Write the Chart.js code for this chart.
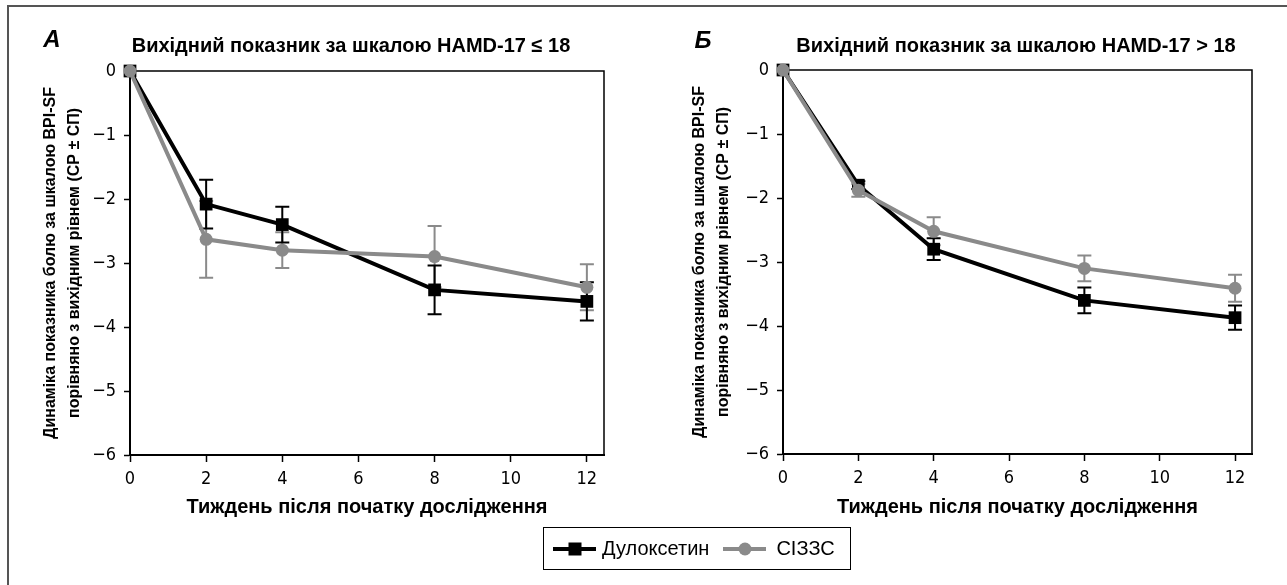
<!DOCTYPE html>
<html lang="uk">
<head>
<meta charset="utf-8">
<script src="https://cdn.jsdelivr.net/npm/chart.js@4.4.1/dist/chart.umd.min.js"></script>
<style>
body{margin:0;background:#fff;width:1287px;height:585px;overflow:hidden;position:relative;font-family:"Liberation Sans",Arial,sans-serif;color:#000}
#cadre{position:absolute;left:7px;top:5px;width:1400px;height:700px;border:2px solid #555}
canvas{position:absolute;top:0}
#grA{left:0}
#grB{left:640px}
.lettre{position:absolute;font:italic bold 24px "Liberation Sans",Arial,sans-serif;transform:translate(-50%,-50%)}
.titre{position:absolute;font:bold 20px "Liberation Sans",Arial,sans-serif;white-space:nowrap;transform:translate(-50%,-50%)}
#legende{position:absolute;left:543px;top:527px;width:308px;height:43px;border:1.5px solid #000;display:flex;align-items:center;font-size:20px;box-sizing:border-box}
.trait{position:relative;display:inline-block;width:43px;height:4px;margin-left:9px;margin-right:6px}
.trait span{position:absolute;left:50%;top:50%;transform:translate(-50%,-50%)}
</style>
</head>
<body>
<div id="cadre"></div>
<canvas id="grA" width="640" height="530"></canvas>
<canvas id="grB" width="647" height="530"></canvas>
<div class="lettre" style="left:52px;top:39px">А</div>
<div class="titre" style="left:351px;top:45px">Вихідний показник за шкалою HAMD-17 ≤ 18</div>
<div class="lettre" style="left:703px;top:40px">Б</div>
<div class="titre" style="left:1016px;top:45px">Вихідний показник за шкалою HAMD-17 &gt; 18</div>
<div id="legende">
  <span class="trait" style="background:#000"><span style="width:13px;height:13px;background:#000"></span></span>Дулоксетин
  <span class="trait" style="background:#8a8a8a;margin-left:14px;margin-right:10px"><span style="width:13px;height:13px;border-radius:50%;background:#8a8a8a"></span></span>СІЗЗС
</div>
<script>
// semaines de mesure et graduations des axes
var semaines = [0, 2, 4, 8, 12]
var gradX = [0, 2, 4, 6, 8, 10, 12]
var gradY = [0, -1, -2, -3, -4, -5, -6]

// А : HAMD-17 <= 18 (moyenne et erreur standard)
var duloxA = [0, -2.08, -2.4, -3.42, -3.6]
var duloxA_es = [0, 0.38, 0.28, 0.38, 0.3]
var sizzsA = [0, -2.63, -2.8, -2.9, -3.38]
var sizzsA_es = [0, 0.6, 0.28, 0.48, 0.36]

// Б : HAMD-17 > 18
var duloxB = [0, -1.8, -2.8, -3.6, -3.87]
var duloxB_es = [0, 0.06, 0.17, 0.2, 0.19]
var sizzsB = [0, -1.88, -2.52, -3.1, -3.41]
var sizzsB_es = [0, 0.1, 0.22, 0.2, 0.21]

var gris = "#8a8a8a"
var policeChiffres = {family: "'Liberation Sans Narrow', 'DejaVu Sans Condensed', Arial, sans-serif", size: 18}
var policeTitre = {family: "'Liberation Sans', Arial, sans-serif", size: 16, weight: "bold"}

function points(val){
	var res = []
	for(var i=0;i<semaines.length;i++){
		res.push({x: semaines[i], y: val[i]})
	}
	return res
}

// cadre du haut et de droite + barres d'erreur, sous les courbes
var dessous = {
	id: "dessous",
	beforeDatasetsDraw: function(chart){
		var ctx = chart.ctx
		var z = chart.chartArea
		ctx.save()
		ctx.strokeStyle = "#000"
		ctx.lineWidth = 1.5
		ctx.beginPath()
		ctx.moveTo(z.left, z.top)
		ctx.lineTo(z.right, z.top)
		ctx.lineTo(z.right, z.bottom)
		ctx.stroke()
		var ys = chart.scales.y
		var metas = chart.getSortedVisibleDatasetMetas()
		for(var k=0;k<metas.length;k++){
			var ds = chart.data.datasets[metas[k].index]
			ctx.strokeStyle = ds.borderColor
			ctx.lineWidth = 2
			for(var i=0;i<ds.data.length;i++){
				var e = ds.erreurs[i]
				if(!e) continue
				var x = metas[k].data[i].x
				var h = ys.getPixelForValue(ds.data[i].y + e)
				var b = ys.getPixelForValue(ds.data[i].y - e)
				ctx.beginPath()
				ctx.moveTo(x, h); ctx.lineTo(x, b)
				ctx.moveTo(x-7, h); ctx.lineTo(x+7, h)
				ctx.moveTo(x-7, b); ctx.lineTo(x+7, b)
				ctx.stroke()
			}
		}
		ctx.restore()
	}
}

function graphe(id, dul, dulEs, siz, sizEs, geo){
	return new Chart(id, {
		type: "line",
		data: {datasets: [
			{label: "Дулоксетин", data: points(dul), erreurs: dulEs, borderColor: "#000", backgroundColor: "#000",
				borderWidth: 4, pointStyle: "rect", pointRadius: 9, pointBorderWidth: 0, order: 1, clip: false},
			{label: "СІЗЗС", data: points(siz), erreurs: sizEs, borderColor: gris, backgroundColor: gris,
				borderWidth: 4, pointStyle: "circle", pointRadius: 6.5, pointBorderWidth: 0, order: 0, clip: false}
		]},
		options: {
			responsive: false,
			animation: false,
			layout: {padding: {left: 0, top: geo.haut, right: geo.droite, bottom: 0}},
			plugins: {legend: {display: false}, tooltip: {enabled: false}},
			scales: {
				x: {
					type: "linear", min: 0, max: 12.45,
					afterFit: function(ax){ ax.height = geo.basX },
					afterBuildTicks: function(ax){ ax.ticks = gradX.map(v => ({value: v})) },
					grid: {drawOnChartArea: false, tickLength: 7, tickWidth: 1.5, tickColor: "#000"},
					border: {color: "#000", width: 2},
					ticks: {font: policeChiffres, color: "#000", padding: 7, maxRotation: 0},
					title: {display: true, text: "Тиждень після початку дослідження", color: "#000",
						font: {family: "'Liberation Sans', Arial, sans-serif", size: 20, weight: "bold"}, padding: {top: 0, bottom: 11}}
				},
				y: {
					min: -6, max: 0,
					afterFit: function(ax){ ax.width = geo.gaucheY },
					afterBuildTicks: function(ax){ ax.ticks = gradY.map(v => ({value: v})) },
					grid: {drawOnChartArea: false, tickLength: 6, tickWidth: 1.5, tickColor: "#000"},
					border: {color: "#000", width: 2},
					ticks: {font: policeChiffres, color: "#000", padding: 8,
						callback: v => v < 0 ? "\u2212" + (-v) : "" + v},
					title: {display: true, color: "#000", font: Object.assign({lineHeight: 1.45}, policeTitre),
						text: ["Динаміка показника болю за шкалою BPI-SF", "порівняно з вихідним рівнем (СР ± СП)"],
						padding: {top: geo.titreY, bottom: 0}}
				}
			}
		},
		plugins: [dessous]
	})
}

graphe("grA", duloxA, duloxA_es, sizzsA, sizzsA_es, {haut: 71, droite: 36, basX: 75, gaucheY: 130, titreY: 39.4})
graphe("grB", duloxB, duloxB_es, sizzsB, sizzsB_es, {haut: 70, droite: 35, basX: 76, gaucheY: 143, titreY: 48.4})
</script>
</body>
</html>
